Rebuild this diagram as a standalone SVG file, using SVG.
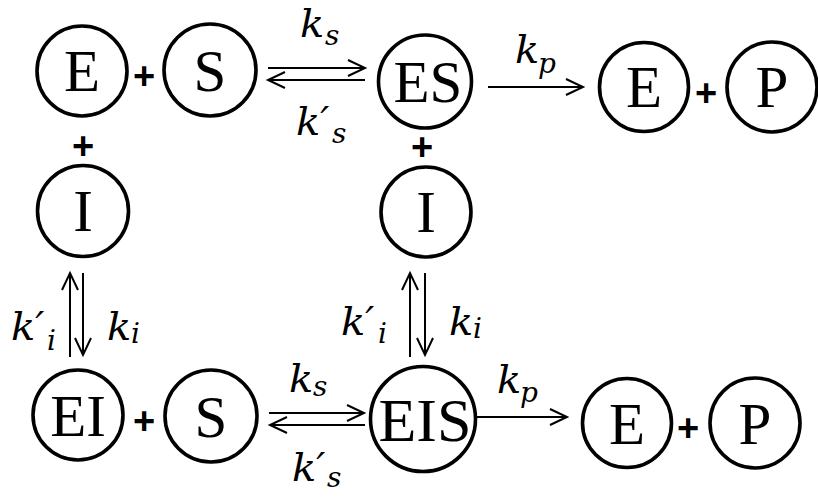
<svg xmlns="http://www.w3.org/2000/svg" width="818" height="497" viewBox="0 0 818 497">
<style>
.c{fill:none;stroke:#000;stroke-width:3.6}
.t{font-family:"Liberation Serif","Times New Roman",serif;font-size:59px;text-anchor:middle;fill:#000}
.pl{font-family:"Liberation Sans",Arial,sans-serif;font-size:38px;font-weight:bold;text-anchor:middle;fill:#000}
.k{font-family:"DejaVu Serif",serif;font-style:italic;font-size:40px;fill:#000}
.sub{font-size:28px}
.a{fill:none;stroke:#000;stroke-width:2;marker-end:url(#h)}
</style>
<defs>
<marker id="h" markerUnits="userSpaceOnUse" markerWidth="22" markerHeight="22" refX="19" refY="11" orient="auto">
<path d="M2,3 L19,11 L2,19" fill="none" stroke="#000" stroke-width="2"/>
</marker>
</defs>
<rect width="818" height="497" fill="#fff"/>
<g id="n-E1"><circle class="c" cx="82" cy="71" r="45"/><text class="t" x="82" y="91">E</text></g>
<g id="n-S1"><circle class="c" cx="210" cy="70" r="46"/><text class="t" x="210" y="91">S</text></g>
<g id="n-ES"><circle class="c" cx="425" cy="81.5" r="46.5"/><text class="t" x="428" y="102">ES</text></g>
<g id="n-E2"><circle class="c" cx="644" cy="87" r="44.5"/><text class="t" x="644" y="107">E</text></g>
<g id="n-P1"><circle class="c" cx="772" cy="87" r="45"/><text class="t" x="772" y="107">P</text></g>
<g id="n-I1"><circle class="c" cx="83" cy="211" r="45.5"/><text class="t" x="83" y="231">I</text></g>
<g id="n-I2"><circle class="c" cx="426" cy="212" r="45"/><text class="t" x="426" y="232">I</text></g>
<g id="n-EI"><circle class="c" cx="78" cy="415" r="45"/><text class="t" x="78" y="436">EI</text></g>
<g id="n-S2"><circle class="c" cx="211" cy="416" r="46"/><text class="t" x="211" y="437">S</text></g>
<g id="n-EIS"><circle class="c" cx="423" cy="419" r="52.5"/><text class="t" x="425" y="441" style="font-size:62px">EIS</text></g>
<g id="n-E3"><circle class="c" cx="627" cy="423" r="44.5"/><text class="t" x="627" y="444">E</text></g>
<g id="n-P2"><circle class="c" cx="755" cy="423" r="45"/><text class="t" x="755" y="444">P</text></g>
<g id="plus">
<text class="pl" x="144" y="89">+</text>
<text class="pl" x="83" y="159">+</text>
<text class="pl" x="422" y="160">+</text>
<text class="pl" x="706" y="106">+</text>
<text class="pl" x="144" y="434">+</text>
<text class="pl" x="688" y="441">+</text>
</g>
<g id="connectors">
<line class="a" x1="268" y1="68" x2="365" y2="68"/>
<line class="a" x1="365" y1="80" x2="268" y2="80"/>
<line class="a" x1="488" y1="87" x2="583" y2="87"/>
<line class="a" x1="70" y1="357" x2="70" y2="273"/>
<line class="a" x1="83" y1="273" x2="83" y2="355"/>
<line class="a" x1="410" y1="357" x2="410" y2="273"/>
<line class="a" x1="425" y1="273" x2="425" y2="355"/>
<line class="a" x1="269" y1="413" x2="364" y2="413"/>
<line class="a" x1="365" y1="425" x2="270" y2="425"/>
<line class="a" x1="475" y1="417" x2="567" y2="417"/>
</g>
<g id="labels">
<text class="k"><tspan x="300" y="37">k</tspan><tspan class="sub" x="325" y="45">s</tspan></text>
<text class="k"><tspan x="296" y="135">k′</tspan><tspan class="sub" x="332" y="143">s</tspan></text>
<text class="k"><tspan x="515" y="63">k</tspan><tspan class="sub" x="538" y="73">p</tspan></text>
<text class="k"><tspan x="11" y="340">k′</tspan><tspan class="sub" x="47" y="350">i</tspan></text>
<text class="k"><tspan x="107" y="340">k</tspan><tspan class="sub" x="131" y="343">i</tspan></text>
<text class="k"><tspan x="341" y="335">k′</tspan><tspan class="sub" x="378" y="343">i</tspan></text>
<text class="k"><tspan x="449" y="335">k</tspan><tspan class="sub" x="473" y="338">i</tspan></text>
<text class="k"><tspan x="289" y="392">k</tspan><tspan class="sub" x="313" y="396">s</tspan></text>
<text class="k"><tspan x="292" y="481">k′</tspan><tspan class="sub" x="327" y="487">s</tspan></text>
<text class="k"><tspan x="497" y="393">k</tspan><tspan class="sub" x="520" y="402">p</tspan></text>
</g>
</svg>
